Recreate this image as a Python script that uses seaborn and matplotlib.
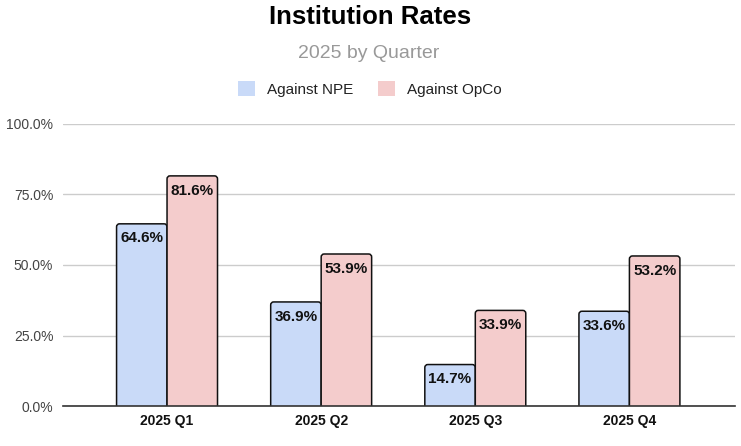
import matplotlib
matplotlib.use("Agg")
import matplotlib.pyplot as plt
import seaborn as sns
import pandas as pd
from matplotlib.patches import FancyBboxPatch, Patch

quarters = ["2025 Q1", "2025 Q2", "2025 Q3", "2025 Q4"]
against_npe = [64.6, 36.9, 14.7, 33.6]
against_opco = [81.6, 53.9, 33.9, 53.2]
series_names = ["Against NPE", "Against OpCo"]
colors = ["#c9daf8", "#f4cccc"]
yticks = [0, 25, 50, 75, 100]

df = pd.DataFrame({
    "quarter": quarters * 2,
    "value": against_npe + against_opco,
    "series": [series_names[0]] * 4 + [series_names[1]] * 4,
})

sns.set_theme(style="white")
plt.rcParams["font.family"] = ["Liberation Sans", "DejaVu Sans"]

fig = plt.figure(figsize=(7.41, 4.46), dpi=100)
ax = fig.add_axes([63 / 741, 1 - 406 / 446, (735 - 63) / 741, (406 - 124) / 446])

sns.barplot(data=df, x="quarter", y="value", hue="series", palette=colors,
            saturation=1, width=0.655, ax=ax, legend=False,
            edgecolor="black", linewidth=1)

ax.set_xlim(-0.675, 3.685)
ax.set_ylim(0, 100)

# replace bars with rounded versions
px_x = (735 - 63) / (3.685 + 0.675)
px_y = (406 - 124) / 100.0
r_px = 3.0
bars = list(ax.patches)
for p in bars:
    x, w, h = p.get_x(), p.get_width(), p.get_height()
    fc = p.get_facecolor()
    p.remove()
    fb = FancyBboxPatch((x, -3), w, h + 3,
                        boxstyle=f"round,pad=0,rounding_size={r_px / px_x}",
                        mutation_aspect=px_x / px_y,
                        facecolor=fc, edgecolor="#111111", linewidth=1.1,
                        zorder=3, clip_on=True)
    ax.add_patch(fb)
    ax.annotate(f"{h:.1f}%", (x + w / 2, h), xytext=(0, -5.5),
                textcoords="offset points", ha="center", va="top",
                fontsize=11, fontweight="bold", color="#111111", zorder=4)

ax.set_yticks(yticks)
ax.set_yticklabels([f"{v:.1f}%" for v in yticks], color="#444444", fontsize=10)
ax.tick_params(axis="y", length=0, pad=7)
ax.tick_params(axis="x", length=0, pad=6)
for lbl in ax.get_xticklabels():
    lbl.set_fontweight("bold")
    lbl.set_fontsize(10)
    lbl.set_color("#111111")
ax.set_xlabel("")
ax.set_ylabel("")
ax.grid(axis="y", color="#cccccc", linewidth=1, zorder=0)
ax.set_axisbelow(True)
for s in ["top", "right", "left"]:
    ax.spines[s].set_visible(False)
ax.spines["bottom"].set_color("#333333")
ax.spines["bottom"].set_linewidth(1.2)
ax.spines["bottom"].set_zorder(5)

fig.text(0.5, 1 - 17 / 446, "Institution Rates", ha="center", va="center",
         fontsize=18.5, fontweight="bold", color="#000000")
fig.text(0.497, 1 - 53 / 446, "2025 by Quarter", ha="center", va="center",
         fontsize=14, color="#999999")

handles = [Patch(facecolor=c, edgecolor="none") for c in colors]
fig.legend(handles, series_names, loc="center", bbox_to_anchor=(0.499, 1 - 89 / 446),
           ncol=2, frameon=False, fontsize=11, handlelength=1.1, handleheight=1.1,
           columnspacing=1.6, handletextpad=0.8, labelcolor="#222222")

fig.savefig("out.png", dpi=100)
